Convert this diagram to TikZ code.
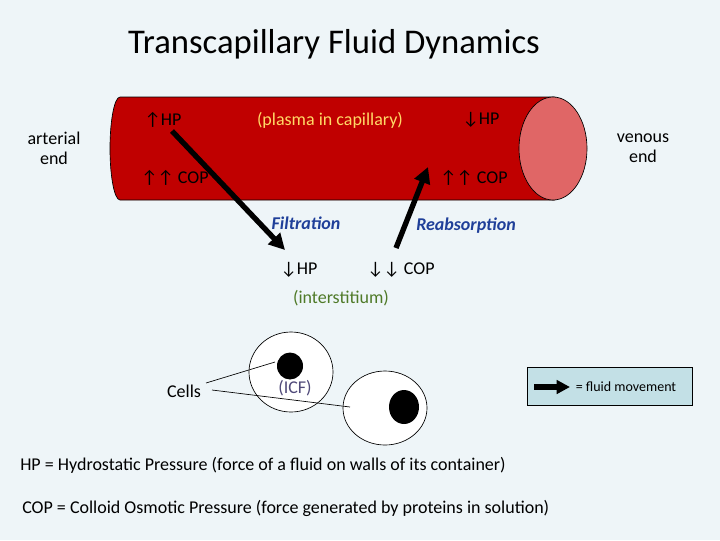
\documentclass[tikz,border=0pt]{standalone}
\usepackage{fontspec}
\setmainfont{Carlito}
\usetikzlibrary{arrows.meta}
\definecolor{bg}{HTML}{EEF5F8}
\definecolor{capred}{HTML}{C00000}
\definecolor{capend}{HTML}{E06666}
\definecolor{plasma}{HTML}{FFD966}
\definecolor{flblue}{HTML}{1F3F99}
\definecolor{intg}{HTML}{4F7A28}
\definecolor{icf}{HTML}{504A7A}
\definecolor{legbg}{HTML}{C3E0E6}
\tikzset{
  px/.style={x=0.75pt,y=-0.75pt},
  txt/.style={font=\fontsize{13.5}{15}\selectfont,inner sep=0pt,align=center},
  flow/.style={line width=4pt,-{Triangle[length=12pt,width=12pt]}},
}
\begin{document}
\begin{tikzpicture}[px]
\fill[bg] (0,0) rectangle (720,540);
\useasboundingbox (0,0) rectangle (720,540);
\node[inner sep=0pt,font=\fontsize{26}{28}\selectfont] (title) at (334,44) {Transcapillary Fluid Dynamics};
% capillary
\path[fill=capred,draw=black,line width=0.5pt] (555,97) -- (120,97) arc[start angle=270,end angle=90,x radius=10,y radius=51.5] -- (555,200) -- cycle;
\draw[fill=capend,line width=0.5pt] (553,148.5) ellipse[x radius=34,y radius=51.5];
\node[txt] (hp1) at (163,120) {↑HP};
\node[txt,text=plasma] (plasma) at (330,120) {(plasma in capillary)};
\node[txt] (hp2) at (481,120) {↓HP};
\node[txt] (cop1) at (175,178) {↑↑ COP};
\node[txt] (cop2) at (474,178) {↑↑ COP};
\node[txt] (art) at (54,148) {arterial\\end};
\node[txt] (ven) at (643,148) {venous\\end};
\coordinate (f1) at (172,131);
\coordinate (f2) at (285,250);
\coordinate (r1) at (396,248);
\coordinate (r2) at (428,167);
\draw[flow] (f1) -- (f2);
\draw[flow] (r1) -- (r2);
\node[txt,text=flblue,font=\fontsize{13.5}{15}\selectfont\bfseries\itshape] (filt) at (306,223) {Filtration};
\node[txt,text=flblue,font=\fontsize{13.5}{15}\selectfont\bfseries\itshape] (reab) at (466,226) {Reabsorption};
\node[txt] (hp3) at (299,270) {↓HP};
\node[txt] (cop3) at (401,270) {↓↓ COP};
\node[txt,text=intg] (inter) at (341,298) {(interstitium)};
% cells
\draw[fill=white,line width=0.5pt] (291,372) ellipse[x radius=42,y radius=40];
\fill (290,366) ellipse[x radius=13,y radius=13.5];
\draw[fill=white,line width=0.5pt] (385,408) ellipse[x radius=42,y radius=37];
\fill (404,407) ellipse[x radius=15,y radius=17];
\node[txt,text=icf] (icfl) at (295,388) {(ICF)};
\node[txt] (cells) at (184,391) {Cells};
\coordinate (c1) at (275,362);
\coordinate (c2) at (350,407);
\draw[line width=0.5pt] (206,383) -- (c1);
\draw[line width=0.5pt] (212,390) -- (c2);
% legend
\node[draw=black,fill=legbg,minimum width=165*0.75pt,minimum height=38*0.75pt,inner sep=0pt,line width=0.5pt] (leg) at (609.5,386) {};
\coordinate (l1) at (534,387);
\coordinate (l2) at (570,387);
\draw[line width=4pt,-{Triangle[length=10pt,width=10pt]}] (l1) -- (l2);
\node[inner sep=0pt,font=\fontsize{10.5}{11}\selectfont] (legt) at (626,387) {= fluid movement};
\node[txt,anchor=west] (def1) at (20,465) {HP = Hydrostatic Pressure (force of a fluid on walls of its container)};
\node[txt,anchor=west] (def2) at (22,508) {COP = Colloid Osmotic Pressure (force generated by proteins in solution)};
\end{tikzpicture}
\end{document}
